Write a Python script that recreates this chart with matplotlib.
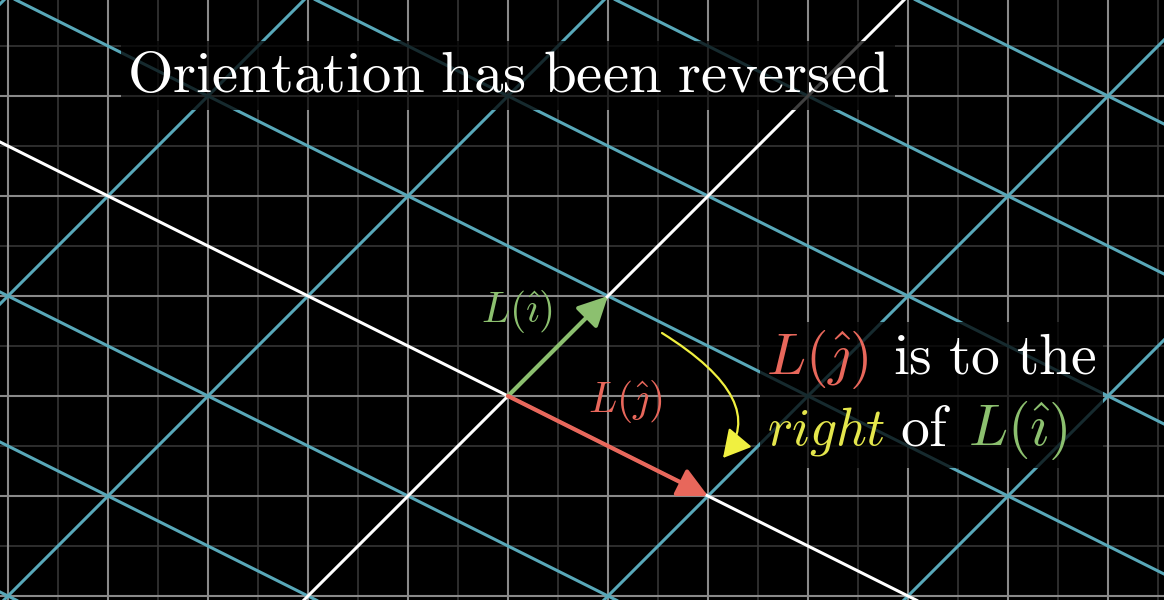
import matplotlib
matplotlib.use("Agg")
import matplotlib.pyplot as plt
import numpy as np
from matplotlib.patches import FancyArrowPatch, Rectangle
from matplotlib.transforms import IdentityTransform

plt.rcParams["mathtext.fontset"] = "cm"

W, H, DPI = 1164, 600, 100

# view window in plane units (origin at pixel 508, 396; 100 px per unit)
X_RANGE = (-5.08, 6.56)
Y_RANGE = (-2.04, 3.96)

# columns of the transformation matrix
i_hat_image = np.array([1.0, 1.0])
j_hat_image = np.array([2.0, -1.0])

# background grid: major every unit, faint minor every half unit
minor_step = 0.5
grid_lines_k = np.arange(-8, 9)

BG = "black"
MAJOR_C = "#8a8a8a"
MINOR_C = "#363636"
TEAL = "#58a8b9"
RED = "#e8675b"
GREEN = "#8cc06f"
YELLOW = "#f0f040"
YELLOW_TXT = "#e4e64c"

# yellow curved arrow (start, tip) in plane units
arc_start = (1.54, 0.63)
arc_tip = (2.15, -0.62)

fig = plt.figure(figsize=(W / DPI, H / DPI), dpi=DPI, facecolor=BG)
ax = fig.add_axes([0, 0, 1, 1])
ax.set_facecolor(BG)
ax.set_xlim(*X_RANGE)
ax.set_ylim(*Y_RANGE)
ax.set_aspect("equal")
ax.axis("off")

# background grid
for v in np.arange(-6, 7.01, minor_step):
    major = abs(v - round(v)) < 1e-9
    c, lw, z = (MAJOR_C, 1.5, 2) if major else (MINOR_C, 1.2, 1)
    ax.axvline(v, color=c, lw=lw, zorder=z)
for v in np.arange(-3, 4.51, minor_step):
    major = abs(v - round(v)) < 1e-9
    c, lw, z = (MAJOR_C, 1.5, 2) if major else (MINOR_C, 1.2, 1)
    ax.axhline(v, color=c, lw=lw, zorder=z)

# transformed grid
t = np.array([-20.0, 20.0])
for k in grid_lines_k:
    col = "white" if k == 0 else TEAL
    z = 4 if k == 0 else 3
    p = k * i_hat_image[:, None] + t[None, :] * j_hat_image[:, None]
    ax.plot(p[0], p[1], color=col, lw=2.2, zorder=z, solid_capstyle="butt")
    q = k * j_hat_image[:, None] + t[None, :] * i_hat_image[:, None]
    ax.plot(q[0], q[1], color=col, lw=2.2, zorder=z, solid_capstyle="butt")

# basis vector arrows
for vec, col in [(i_hat_image, GREEN), (j_hat_image, RED)]:
    ax.add_patch(FancyArrowPatch((0, 0), tuple(vec),
                                 arrowstyle="-|>,head_length=1.0,head_width=0.5",
                                 mutation_scale=18, color=col, lw=3,
                                 shrinkA=0, shrinkB=0, zorder=6))

ax.add_patch(FancyArrowPatch(arc_start, arc_tip,
                             connectionstyle="angle3,angleA=-32,angleB=50",
                             arrowstyle="-|>,head_length=1.0,head_width=0.55",
                             mutation_scale=17, color=YELLOW, lw=1.6,
                             shrinkA=0, shrinkB=0, zorder=6))

fig.canvas.draw()
renderer = fig.canvas.get_renderer()


def put_pieces(pieces, y0):
    """Place coloured pieces at given x (pixels from left) on one baseline y0 (pixels from top)."""
    boxes = []
    for x, s, c, size in pieces:
        txt = fig.text(x / W, 1 - y0 / H, s, color=c, fontsize=size,
                       ha="left", va="baseline", zorder=10)
        boxes.append(txt.get_window_extent(renderer))
    return boxes


def backdrop(boxes, pad=6):
    x0 = min(b.x0 for b in boxes) - pad
    x1 = max(b.x1 for b in boxes) + pad
    y0 = min(b.y0 for b in boxes) - pad
    y1 = max(b.y1 for b in boxes) + pad
    fig.patches.append(Rectangle((x0, y0), x1 - x0, y1 - y0, transform=IdentityTransform(),
                                 facecolor="black", edgecolor="none", alpha=0.75, zorder=9))


title_boxes = put_pieces([(127, r"$\mathrm{Orientation\ has\ been\ reversed}$", "white", 42.3)], 92)
backdrop(title_boxes)

line1 = put_pieces([(766, r"$L(\hat{\jmath})$", RED, 41.5),
                    (893, r"$\mathrm{is\ to\ the}$", "white", 41.5)], 374)
line2 = put_pieces([(767, r"$right$", YELLOW_TXT, 38.5),
                    (900, r"$\mathrm{of}$", "white", 41.5),
                    (968, r"$L(\hat{\imath})$", GREEN, 41.5)], 445)
backdrop(line1 + line2)

put_pieces([(481, r"$L(\hat{\imath})$", GREEN, 30)], 322)
put_pieces([(588, r"$L(\hat{\jmath})$", RED, 30)], 412)

fig.savefig("out.png", dpi=DPI, facecolor=BG)
